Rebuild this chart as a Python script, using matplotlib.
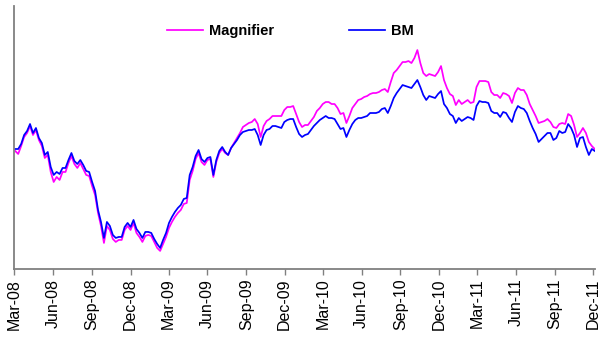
import pandas as pd
import matplotlib.pyplot as plt
import matplotlib.dates as mdates

plt.rcParams['font.family'] = ['Liberation Sans', 'DejaVu Sans']

# weekly index levels, start of Mar-08 ~ 100
bm = [99.5, 99.5, 102, 106.5, 108.5, 112, 107.5, 110, 105, 102.5,
      96.5, 98, 90.5, 86.5, 88, 87, 90, 90, 94, 97.5,
      93.5, 92, 94, 91.5, 88.5, 88, 83, 78.5, 69, 63,
      55, 63, 61, 56.5, 55, 55.5, 55.5, 60.5, 62.5, 60.5,
      64, 59.5, 57.5, 55, 58, 58, 57.5, 54.5, 52, 50,
      54, 57.5, 62.5, 65.5, 68, 70, 71.5, 74.5, 75, 86.5,
      90.5, 96, 99, 94.5, 93, 95, 95.5, 86.5, 94, 98.5,
      100.5, 98, 96.5, 100, 102, 104, 106.5, 108, 108.5, 109,
      109, 109.5, 106.5, 101.5, 106.5, 109, 109.5, 111, 111, 110.5,
      110, 113, 114, 114.5, 114.5, 110.5, 107, 105.5, 106.5, 107,
      109, 111, 112.5, 114, 115, 116, 115, 115, 114.5, 112,
      109.5, 110, 105.5, 109, 112, 114, 115, 115, 115.5, 116,
      117.5, 117.5, 117.5, 118, 119.5, 120, 117.5, 121, 125, 127.5,
      129.5, 131.5, 131, 130.5, 130, 132, 134, 130.5, 126.5, 124,
      126, 125.5, 125, 127, 128.5, 122, 120, 117, 116, 112.5,
      115, 113.5, 114.5, 115.5, 115, 114, 121, 123.5, 123, 123,
      122.5, 118.5, 117.5, 117.5, 115.5, 118, 117.5, 115, 113, 118,
      121, 120, 119.5, 117.5, 113.5, 110, 107, 103, 104.5, 106,
      107.5, 107.5, 104, 105, 108.5, 107.5, 108, 112, 110, 106.5,
      100.5, 105, 105.5, 100.5, 96.5, 99.5, 98.5]

magnifier = [98.5, 97, 101, 105.5, 107.5, 111, 106.5, 109, 104, 101,
             95, 96.5, 88, 83, 85.5, 84, 88, 88, 92.5, 96,
             92, 90, 92.5, 89.5, 86.5, 86, 81, 76.5, 67.5, 61,
             52.5, 61, 59, 54.5, 53, 54, 54, 59, 61, 59,
             62.5, 57.5, 55.5, 53, 56, 56.5, 56, 53, 50, 48.5,
             52, 55.5, 60, 63, 65.5, 67.5, 69, 72, 72.5, 84,
             88.5, 94.5, 97.5, 93, 91.5, 94, 94.5, 85.5, 93, 97.5,
             99.5, 97.5, 96.5, 100, 102.5, 105, 107.5, 110.5, 111.5, 112.5,
             113, 114.5, 112, 105.5, 111, 113.5, 114.5, 116, 116, 116,
             116, 119, 120.5, 120.5, 121, 117, 113, 110.5, 111.5, 111.5,
             113.5, 115.5, 118.5, 120, 122, 123, 123, 122, 122, 120,
             117, 117.5, 112.5, 116, 120, 122, 124, 124.5, 125.5, 126,
             127, 127.5, 127.5, 128, 129, 129.5, 128, 133, 137.5, 139,
             141, 143, 143, 143.5, 142.5, 145, 149, 142.5, 137.5, 136,
             137, 136.5, 136, 138, 141, 134, 130, 127, 126, 121.5,
             124, 122, 123, 124, 122.5, 123, 130.5, 133.5, 133.5, 133.5,
             133, 128, 126.5, 126.5, 125, 127.5, 127, 126, 122.5, 127.5,
             130, 129, 129, 126.5, 122, 119, 116, 112.5, 113, 113.5,
             114.5, 113, 110.5, 110, 112, 112.5, 112, 117, 116, 111.5,
             105.5, 107.5, 110, 107.5, 103, 101, 99.5]

dates = pd.date_range('2008-03-03', periods=len(bm), freq='7D')

fig = plt.figure(figsize=(6, 3.37), dpi=100)
ax = fig.add_axes([0.024, 0.202, 0.968, 0.780])

ax.plot(dates, magnifier, color='#ff00ff', lw=1.25, label='Magnifier')
ax.plot(dates, bm, color='#0000ff', lw=1.25, label='BM')

ax.set_xlim(pd.Timestamp('2008-03-01'), pd.Timestamp('2011-12-06'))
ax.set_ylim(39.5, 171)
ax.set_yticks([])

ax.xaxis.set_major_locator(mdates.MonthLocator(bymonth=[3, 6, 9, 12]))
ax.xaxis.set_major_formatter(mdates.DateFormatter('%b-%y'))
ax.tick_params(axis='x', rotation=90, labelsize=11.5, length=4, width=1,
               color='#808080', direction='out', pad=3)

for s in ['top', 'right']:
    ax.spines[s].set_visible(False)
for s in ['left', 'bottom']:
    ax.spines[s].set_color('#808080')
    ax.spines[s].set_linewidth(1.3)

ax.legend(loc='center', bbox_to_anchor=(0.475, 0.905), ncol=2, frameon=False,
          prop={'weight': 'bold', 'size': 10.5}, handlelength=2.5,
          handletextpad=0.4, columnspacing=5.1)

fig.savefig('out.png', dpi=100)
